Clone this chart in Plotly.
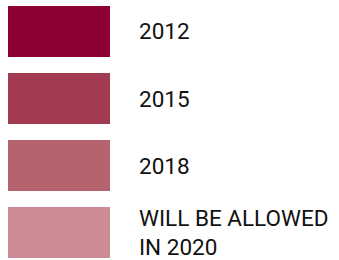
import plotly.graph_objects as go

labels = ["2012", "2015", "2018", "WILL BE ALLOWED<br>IN 2020"]
swatch_len = [1, 1, 1, 1]
colors = ["#8C0034", "#A23A51", "#B5636F", "#CB8C95"]

cats = list(range(len(labels)))

fig = go.Figure()
fig.add_trace(go.Bar(
    y=cats, x=swatch_len, orientation="h",
    marker=dict(color=colors, line=dict(width=0)),
    hoverinfo="skip", showlegend=False,
))

for c, lab in zip(cats, labels):
    fig.add_annotation(
        x=1.0, y=c, xref="x", yref="y", text=lab, showarrow=False,
        xanchor="left", yanchor="middle", align="left", xshift=27,
        font=dict(family="Roboto", size=22.5, color="#111111"),
    )

fig.update_layout(
    width=339, height=260,
    margin=dict(l=0, r=0, t=0, b=0),
    paper_bgcolor="white", plot_bgcolor="white",
    bargap=0.239,
    xaxis=dict(range=[-0.0784, 3.245], visible=False, fixedrange=True),
    yaxis=dict(range=[3.41, -0.47], visible=False, fixedrange=True),
)

fig.write_html(
    "out.html",
    config={"displayModeBar": False},
    post_script="document.body.style.margin='0';document.body.style.padding='0';",
)
